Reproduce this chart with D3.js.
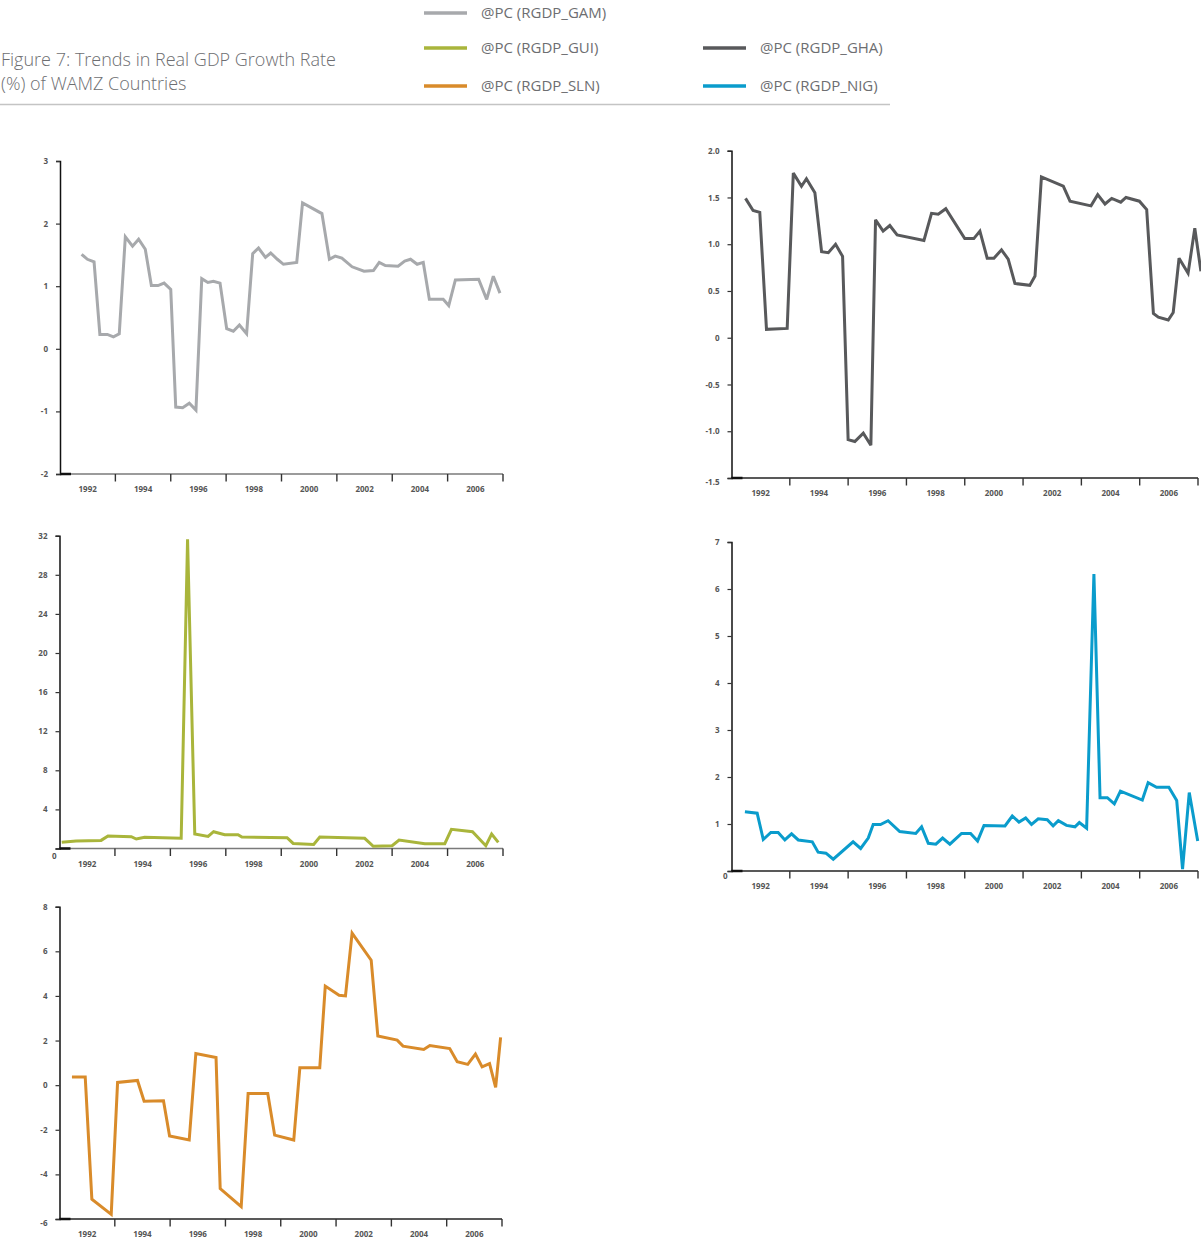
<!DOCTYPE html>
<html>
<head>
<meta charset="utf-8">
<script src="https://cdn.jsdelivr.net/npm/d3@7"></script>
<style>
  html, body { margin: 0; padding: 0; background: #fff; overflow: hidden; }
  svg { display: block; }
  .ylab, .xlab { font-family: "Open Sans", "DejaVu Sans", sans-serif; font-weight: 700; font-size: 8px; fill: #555; }
</style>
</head>
<body>
<svg id="chart" width="1201" height="1239"></svg>
<script>
// ---------- DATA (decimal years, growth values) ----------
const titleLines = ["Figure 7: Trends in Real GDP Growth Rate", "(%) of WAMZ Countries"];
const seriesNames = ["@PC (RGDP_GAM)", "@PC (RGDP_GUI)", "@PC (RGDP_SLN)", "@PC (RGDP_GHA)", "@PC (RGDP_NIG)"];
const yearLabels = [1992, 1994, 1996, 1998, 2000, 2002, 2004, 2006];
const yearTicks = [1991, 1993, 1995, 1997, 1999, 2001, 2003, 2005, 2007];

const gamT = [1991.78,1991.99,1992.23,1992.44,1992.71,1992.93,1993.14,1993.36,1993.62,1993.84,1994.08,1994.30,1994.54,1994.76,1995.00,1995.18,1995.43,1995.67,1995.91,1996.12,1996.34,1996.54,1996.78,1997.02,1997.26,1997.48,1997.74,1997.96,1998.17,1998.42,1998.61,1998.85,1999.07,1999.55,1999.76,2000.46,2000.73,2000.94,2001.18,2001.55,2001.98,2002.32,2002.53,2002.75,2003.21,2003.45,2003.66,2003.90,2004.12,2004.34,2004.84,2005.04,2005.28,2006.12,2006.41,2006.65,2006.89];
const gamV = [1.51,1.43,1.39,0.23,0.23,0.19,0.24,1.79,1.64,1.75,1.59,1.01,1.01,1.05,0.95,-0.93,-0.94,-0.87,-0.98,1.12,1.06,1.08,1.05,0.32,0.28,0.38,0.24,1.52,1.61,1.46,1.53,1.43,1.35,1.38,2.33,2.16,1.43,1.48,1.45,1.31,1.24,1.25,1.38,1.33,1.32,1.40,1.43,1.35,1.38,0.79,0.79,0.69,1.10,1.11,0.79,1.16,0.89];

const ghaT = [1991.48,1991.74,1991.97,1992.20,1992.91,1993.12,1993.40,1993.57,1993.86,1994.09,1994.32,1994.57,1994.81,1995.00,1995.23,1995.52,1995.78,1995.94,1996.20,1996.43,1996.68,1997.60,1997.86,1998.09,1998.35,1999.00,1999.31,1999.52,1999.77,2000.00,2000.26,2000.49,2000.72,2001.23,2001.41,2001.63,2002.38,2002.61,2003.33,2003.56,2003.81,2004.04,2004.35,2004.53,2004.99,2005.24,2005.47,2005.64,2005.98,2006.15,2006.35,2006.66,2006.89,2007.10];
const ghaV = [1.49,1.36,1.34,0.09,0.10,1.76,1.62,1.70,1.55,0.92,0.91,1.00,0.87,-1.09,-1.11,-1.02,-1.15,1.26,1.14,1.20,1.10,1.04,1.33,1.32,1.38,1.06,1.06,1.14,0.85,0.85,0.94,0.84,0.58,0.56,0.66,1.72,1.62,1.46,1.41,1.53,1.43,1.49,1.45,1.50,1.46,1.37,0.26,0.22,0.19,0.27,0.85,0.69,1.17,0.71];

const guiT = [1991.08,1991.60,1992.50,1992.75,1993.59,1993.77,1994.07,1995.39,1995.62,1995.88,1996.36,1996.56,1996.96,1997.44,1997.58,1999.21,1999.43,2000.17,2000.39,2002.01,2002.32,2003.00,2003.25,2004.18,2004.90,2005.14,2005.90,2006.38,2006.59,2006.83];
const guiV = [0.63,0.76,0.83,1.28,1.21,0.97,1.14,1.04,31.63,1.48,1.24,1.72,1.41,1.41,1.17,1.11,0.52,0.42,1.17,1.04,0.22,0.29,0.87,0.49,0.49,1.96,1.72,0.29,1.48,0.63];

const nigT = [1991.46,1991.88,1992.09,1992.35,1992.60,1992.83,1993.06,1993.29,1993.77,1993.97,1994.24,1994.49,1995.17,1995.43,1995.69,1995.86,1996.11,1996.37,1996.77,1997.32,1997.52,1997.75,1998.01,1998.24,1998.49,1998.89,1999.20,1999.44,1999.66,2000.38,2000.63,2000.86,2001.09,2001.29,2001.52,2001.83,2002.03,2002.21,2002.49,2002.78,2002.93,2003.18,2003.43,2003.64,2003.89,2004.13,2004.34,2005.09,2005.29,2005.58,2006.00,2006.27,2006.47,2006.70,2006.99];
const nigV = [1.26,1.23,0.67,0.82,0.82,0.66,0.79,0.66,0.62,0.40,0.38,0.25,0.62,0.48,0.70,0.99,0.99,1.07,0.84,0.80,0.94,0.59,0.57,0.70,0.57,0.80,0.80,0.64,0.97,0.96,1.17,1.04,1.13,0.99,1.11,1.09,0.96,1.07,0.97,0.94,1.03,0.91,6.32,1.56,1.56,1.43,1.70,1.51,1.88,1.78,1.78,1.50,0.04,1.67,0.64];

const slnT = [1991.45,1991.93,1992.17,1992.87,1993.10,1993.82,1994.06,1994.76,1994.98,1995.69,1995.93,1996.66,1996.81,1997.57,1997.82,1998.53,1998.78,1999.47,1999.69,2000.41,2000.61,2001.11,2001.34,2001.58,2002.27,2002.51,2003.21,2003.42,2004.17,2004.39,2005.11,2005.38,2005.76,2006.04,2006.28,2006.55,2006.77,2006.95];
const slnV = [0.37,0.37,-5.11,-5.79,0.12,0.21,-0.72,-0.70,-2.28,-2.46,1.42,1.24,-4.64,-5.45,-0.37,-0.37,-2.24,-2.46,0.78,0.78,4.44,4.03,4.00,6.82,5.60,2.20,2.02,1.75,1.60,1.78,1.64,1.05,0.93,1.39,0.82,0.97,-0.10,2.14];

const gamTicks = [-2,-1,0,1,2,3];
const ghaTicks = [-1.5,-1.0,-0.5,0,0.5,1.0,1.5,2.0];
const guiTicks = [0,4,8,12,16,20,24,28,32];
const nigTicks = [0,1,2,3,4,5,6,7];
const slnTicks = [-6,-4,-2,0,2,4,6,8];

// ---------- STYLE / LAYOUT ----------
const colors = { GAM: "#a7a9ac", GHA: "#58595b", GUI: "#a9b53b", NIG: "#0a9ccc", SLN: "#d98b2a" };
const hyphen = s => s.replace("\u2212", "-");
const intFmt = d => hyphen(d3.format("d")(d));
const decFmt = d => d === 0 ? "0" : hyphen(d3.format(".1f")(d));

const svg = d3.select("#chart");

// Title
const title = svg.append("g").attr("font-family", "'Open Sans', 'Noto Sans', sans-serif")
  .attr("font-size", 18).attr("font-weight", 300).attr("fill", "#6d6e71");
title.append("text").attr("x", 1).attr("y", 66).text(titleLines[0]);
title.append("text").attr("x", 1).attr("y", 90).text(titleLines[1]);

// Legend
const legendItems = [
  { name: seriesNames[0], color: colors.GAM, x: 424, y: 13 },
  { name: seriesNames[1], color: colors.GUI, x: 424, y: 48 },
  { name: seriesNames[2], color: colors.SLN, x: 424, y: 86 },
  { name: seriesNames[3], color: colors.GHA, x: 703, y: 48 },
  { name: seriesNames[4], color: colors.NIG, x: 703, y: 86 }
];
const lg = svg.append("g");
legendItems.forEach(d => {
  lg.append("line").attr("x1", d.x).attr("x2", d.x + 43).attr("y1", d.y).attr("y2", d.y)
    .attr("stroke", d.color).attr("stroke-width", 3.5);
  lg.append("text").attr("x", d.x + 57).attr("y", d.y).attr("dy", "0.35em")
    .attr("font-family", "'Open Sans', 'Noto Sans', sans-serif").attr("font-size", 15)
    .attr("fill", "#6d6e71").text(d.name);
});
svg.append("line").attr("x1", 0).attr("x2", 890).attr("y1", 104.5).attr("y2", 104.5)
  .attr("stroke", "#c4c4c4").attr("stroke-width", 1.5);

// Panels
const panels = [
  { t: gamT, v: gamV, color: colors.GAM, ticks: gamTicks, fmt: intFmt, x0: 60, x1: 503, yTop: 161, yBot: 474, xAxisColor: "#7a7a7a", minShift: [0, 0] },
  { t: ghaT, v: ghaV, color: colors.GHA, ticks: ghaTicks, fmt: decFmt, x0: 731.5, x1: 1198, yTop: 150.7, yBot: 478, xAxisColor: "#222", minShift: [0, 4] },
  { t: guiT, v: guiV, color: colors.GUI, ticks: guiTicks, fmt: intFmt, x0: 59.5, x1: 503, yTop: 535.7, yBot: 848.5, xAxisColor: "#7a7a7a", minShift: [9, 7] },
  { t: nigT, v: nigV, color: colors.NIG, ticks: nigTicks, fmt: intFmt, x0: 731.5, x1: 1198, yTop: 542, yBot: 871, xAxisColor: "#222", minShift: [8, 5] },
  { t: slnT, v: slnV, color: colors.SLN, ticks: slnTicks, fmt: intFmt, x0: 59.5, x1: 502, yTop: 906.7, yBot: 1219, xAxisColor: "#222", minShift: [0, 4] }
];

panels.forEach(p => {
  const x = d3.scaleLinear().domain([1991, 2007]).range([p.x0, p.x1]);
  const y = d3.scaleLinear().domain([p.ticks[0], p.ticks[p.ticks.length - 1]]).range([p.yBot, p.yTop]);
  const g = svg.append("g");

  // x axis line
  g.append("line").attr("x1", p.x0).attr("x2", p.x1).attr("y1", p.yBot).attr("y2", p.yBot)
    .attr("stroke", p.xAxisColor).attr("stroke-width", 1.5);
  g.append("line").attr("x1", p.x0).attr("x2", p.x0 + 11).attr("y1", p.yBot).attr("y2", p.yBot)
    .attr("stroke", "#111").attr("stroke-width", 2.5);
  // x ticks (year boundaries)
  g.selectAll(".xt").data(yearTicks.slice(1)).enter().append("line")
    .attr("x1", d => x(d)).attr("x2", d => x(d))
    .attr("y1", p.yBot).attr("y2", p.yBot + 7.5)
    .attr("stroke", "#333").attr("stroke-width", 1.4);
  // year labels
  g.selectAll(".xl").data(yearLabels).enter().append("text").attr("class", "xlab")
    .attr("x", d => x(d)).attr("y", p.yBot + 15.5).attr("dy", "0.35em")
    .attr("text-anchor", "middle").text(d => d);

  // y axis
  const yAxis = d3.axisLeft(y).tickValues(p.ticks).tickSize(4).tickPadding(8).tickFormat(p.fmt);
  const ya = g.append("g").attr("transform", `translate(${p.x0},0)`).call(yAxis);
  ya.select(".domain").attr("stroke", "#111").attr("stroke-width", 1.5);
  ya.selectAll(".tick line").attr("stroke", "#333").attr("stroke-width", 1.2);
  ya.selectAll(".tick text").attr("class", "ylab").attr("fill", null)
    .attr("font-family", null).attr("font-size", null);
  ya.attr("font-family", null).attr("font-size", null);
  ya.selectAll(".tick").filter(d => d === p.ticks[0]).select("text")
    .attr("transform", `translate(${p.minShift[0]},${p.minShift[1]})`);

  // series line
  const pts = p.t.map((t, i) => [t, p.v[i]]);
  const line = d3.line().x(d => x(d[0])).y(d => y(d[1]));
  g.append("path").datum(pts).attr("d", line)
    .attr("fill", "none").attr("stroke", p.color).attr("stroke-width", 3)
    .attr("stroke-linejoin", "miter").attr("stroke-miterlimit", 3);
});
</script>
</body>
</html>
